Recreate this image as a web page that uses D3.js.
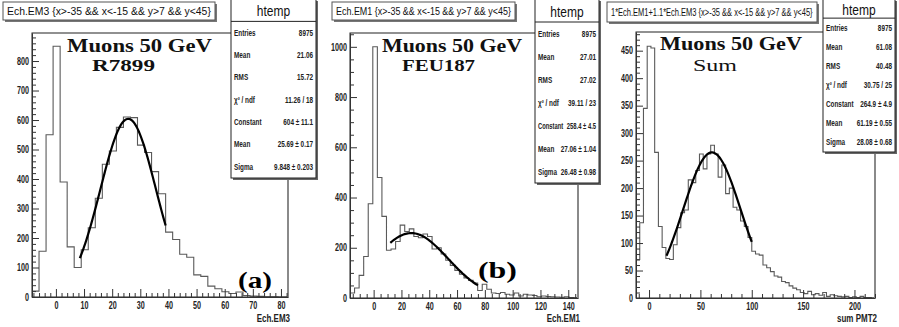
<!DOCTYPE html>
<html>
<head>
<meta charset="utf-8">
<script src="https://cdn.jsdelivr.net/npm/d3@7"></script>
<style>
body { margin: 0; background: #fff; }
svg { display: block; }
text { font-family: "Liberation Sans", "DejaVu Sans", sans-serif; }
.serif { font-family: "Liberation Serif", "DejaVu Serif", serif; }
</style>
</head>
<body>
<svg width="899" height="327"></svg>
<script>
// bin contents (three PMT amplitude histograms)
var emA_start = -8.5, emA_width = 2.5;
var emA_counts = [20, 155, 550, 850, 390, 170, 100, 160, 235, 335,
                  450, 495, 575, 610, 608, 515, 490, 425, 350, 220,
                  195, 145, 135, 75, 70, 37, 28, 18, 12, 17,
                  5, 3, 2, 1, 1, 0, 0];

var emB_start = -17, emB_width = 3.28;
var emB_counts = [20, 40, 90, 165, 375, 1000, 480, 325, 190, 195,
                  225, 290, 265, 275, 245, 240, 255, 245, 195, 200,
                  175, 150, 130, 110, 95, 80, 70, 60, 30, 55,
                  35, 20, 18, 22, 15, 12, 20, 8, 15, 12,
                  10, 5, 8, 6, 5, 4, 3, 5, 2, 1];

var sum_start = -12.7, sum_width = 3.636;
var sum_counts = [70, 137, 345, 458, 455, 265, 130, 92, 72, 70,
                  97, 128, 155, 160, 215, 210, 232, 262, 235, 262,
                  278, 262, 220, 242, 190, 200, 165, 160, 140, 130,
                  110, 85, 80, 78, 60, 55, 48, 40, 38, 30,
                  28, 22, 18, 15, 10, 8, 12, 6, 8, 5,
                  10, 3, 6, 4, 3, 2, 3, 1, 2, 1,
                  3, 1, 1, 0];

// gaussian fits: constant, mean, sigma, and the fitted range
var fitA = [604, 25.69, 9.848], fitRangeA = [8.5, 39];
var fitB = [258.4, 27.06, 26.48], fitRangeB = [12, 75];
var fitC = [264.9, 61.19, 28.08], fitRangeC = [17, 100];

var statLabels = ["Entries", "Mean", "RMS", "\u03c7\u00b2 / ndf", "Constant", "Mean", "Sigma"];
var statsA = ["8975", "21.06", "15.72", "11.26 / 18", "604 \u00b1 11.1", "25.69 \u00b1 0.17", "9.848 \u00b1 0.203"];
var statsB = ["8975", "27.01", "27.02", "39.11 / 23", "258.4 \u00b1 4.5", "27.06 \u00b1 1.04", "26.48 \u00b1 0.98"];
var statsC = ["8975", "61.08", "40.48", "30.75 / 25", "264.9 \u00b1 4.9", "61.19 \u00b1 0.55", "28.08 \u00b1 0.68"];

var titles = ["Ech.EM3 {x>-35 && x<-15 && y>7 && y<45}",
              "Ech.EM1 {x>-35 && x<-15 && y>7 && y<45}",
              "1*Ech.EM1+1.1*Ech.EM3 {x>-35 && x<-15 && y>7 && y<45}"];
var axisTitles = ["Ech.EM3", "Ech.EM1", "sum  PMT2"];
var tags = ["R7899", "FEU187", "Sum"];

var svg = d3.select("svg");

// squeeze a text horizontally (the scan uses a narrow font)
function condense(sel, f) {
  sel.each(function() {
    var t = d3.select(this);
    var x0 = +t.attr("x") || 0, y0 = +t.attr("y") || 0;
    t.attr("x", 0).attr("y", 0)
     .attr("transform", "translate(" + x0 + "," + y0 + ") scale(" + f + ",1)");
  });
  return sel;
}

var panels = [
  { start: emA_start, width: emA_width, counts: emA_counts, fit: fitA, fitRange: fitRangeA, stats: statsA,
    xDomain: [-8.5, 82.5], yDomain: [0, 895], left: 32, top: 33, right: 288, bottom: 297,
    xMajor: 10, xMinor: 2, yMajor: 100, yMinor: 20,
    titleBox: [3, 2, 215, 20], statBox: [231, -1, 316, 178],
    muons: [67, 52, 145], tag: [92, 71, 63, "bold"], letter: ["(a)", 238, 288, 34] },
  { start: emB_start, width: emB_width, counts: emB_counts, fit: fitB, fitRange: fitRangeB, stats: statsB,
    xDomain: [-17, 147], yDomain: [0, 1055], left: 350, top: 33, right: 578, bottom: 298,
    xMajor: 20, xMinor: 5, yMajor: 200, yMinor: 50,
    titleBox: [332, 2, 515, 20], statBox: [535, -1, 599, 183],
    muons: [382, 52, 140], tag: [402, 71, 73, "bold"], letter: ["(b)", 478, 278, 39] },
  { start: sum_start, width: sum_width, counts: sum_counts, fit: fitC, fitRange: fitRangeC, stats: statsC,
    xDomain: [-12.7, 220], yDomain: [0, 484], left: 636, top: 32, right: 875, bottom: 298,
    xMajor: 50, xMinor: 10, yMajor: 50, yMinor: 10,
    titleBox: [607, 2, 817, 22], statBox: [823, -1, 895, 152],
    muons: [660, 50, 142], tag: [693, 71, 44, "normal"], letter: null }
];

panels.forEach(function(p, k) {
  var x = d3.scaleLinear().domain(p.xDomain).range([p.left, p.right]);
  var y = d3.scaleLinear().domain(p.yDomain).range([p.bottom, p.top]);
  var g = svg.append("g");

  var clipId = "clip" + k;
  g.append("clipPath").attr("id", clipId)
    .append("rect").attr("x", p.left).attr("y", p.top)
    .attr("width", p.right - p.left).attr("height", p.bottom - p.top);

  // histogram outline
  var steps = p.counts.map(function(c, i) { return [p.start + i * p.width, c]; });
  steps.push([p.start + p.counts.length * p.width, p.counts[p.counts.length - 1]]);
  var stepLine = d3.line()
      .x(function(d) { return x(d[0]); })
      .y(function(d) { return y(d[1]); })
      .curve(d3.curveStepAfter);
  g.append("path")
      .attr("clip-path", "url(#" + clipId + ")")
      .attr("d", stepLine(steps))
      .attr("fill", "none")
      .attr("stroke", "#5a5a5a")
      .attr("stroke-width", 1.1);

  // fitted gaussian
  var gx = d3.range(p.fitRange[0], p.fitRange[1] + 0.01, (p.fitRange[1] - p.fitRange[0]) / 80);
  var gauss = function(v) { return p.fit[0] * Math.exp(-0.5 * Math.pow((v - p.fit[1]) / p.fit[2], 2)); };
  g.append("path")
      .attr("d", d3.line().x(function(v) { return x(v); }).y(function(v) { return y(gauss(v)); })(gx))
      .attr("fill", "none")
      .attr("stroke", "#000")
      .attr("stroke-width", 2.2);

  // frame
  g.append("rect")
      .attr("x", p.left).attr("y", p.top)
      .attr("width", p.right - p.left).attr("height", p.bottom - p.top)
      .attr("fill", "none").attr("stroke", "#222").attr("stroke-width", 1);
  g.append("line")
      .attr("x1", p.right).attr("x2", p.right).attr("y1", p.top).attr("y2", p.bottom)
      .attr("stroke", "#8a8a8a").attr("stroke-width", 2);

  var tickRange = function(dom, step) {
    return d3.range(Math.ceil(dom[0] / step) * step, dom[1] + 1e-9, step);
  };
  var isMajor = function(v, step) { return Math.abs(v / step - Math.round(v / step)) < 1e-6; };

  // y axis
  var yMaj = tickRange(p.yDomain, p.yMajor);
  var yMin = tickRange(p.yDomain, p.yMinor).filter(function(v) { return !isMajor(v, p.yMajor); });
  var ya = g.append("g").attr("transform", "translate(" + p.left + ",0)")
      .call(d3.axisLeft(y).tickValues(yMaj).tickFormat(d3.format("d"))
        .tickSizeInner(-7).tickSizeOuter(0).tickPadding(3));
  g.append("g").attr("transform", "translate(" + p.left + ",0)")
      .call(d3.axisLeft(y).tickValues(yMin).tickSizeInner(-4).tickSizeOuter(0).tickFormat(""))
      .select(".domain").remove();

  // x axis
  var xMaj = tickRange(p.xDomain, p.xMajor);
  var xMin = tickRange(p.xDomain, p.xMinor).filter(function(v) { return !isMajor(v, p.xMajor); });
  var xa = g.append("g").attr("transform", "translate(0," + p.bottom + ")")
      .call(d3.axisBottom(x).tickValues(xMaj).tickFormat(d3.format("d"))
        .tickSizeInner(-8).tickSizeOuter(0).tickPadding(5));
  g.append("g").attr("transform", "translate(0," + p.bottom + ")")
      .call(d3.axisBottom(x).tickValues(xMin).tickSizeInner(-4).tickSizeOuter(0).tickFormat(""))
      .select(".domain").remove();

  g.selectAll(".tick line").attr("stroke", "#333");
  g.selectAll(".domain").attr("stroke", "#333");
  [ya, xa].forEach(function(a) {
    condense(a.selectAll(".tick text")
      .style("font-family", "'Liberation Sans','DejaVu Sans',sans-serif")
      .attr("font-size", 10).attr("font-weight", "bold").attr("fill", "#222"), 0.72);
  });

  condense(g.append("text")
      .attr("x", p.right + 2).attr("y", 322)
      .attr("text-anchor", "end")
      .attr("font-size", 10).attr("font-weight", "bold").attr("fill", "#222")
      .text(axisTitles[k]), 0.8);

  // labels inside the frame
  g.append("text").attr("class", "serif")
      .attr("x", p.muons[0]).attr("y", p.muons[1])
      .attr("textLength", p.muons[2]).attr("lengthAdjust", "spacingAndGlyphs")
      .attr("font-size", 19).attr("font-weight", "bold").attr("fill", "#111")
      .text("Muons 50 GeV");
  g.append("text").attr("class", "serif")
      .attr("x", p.tag[0]).attr("y", p.tag[1])
      .attr("textLength", p.tag[2]).attr("lengthAdjust", "spacingAndGlyphs")
      .attr("font-size", 16).attr("font-weight", p.tag[3]).attr("fill", "#111")
      .text(tags[k]);
  if (p.letter) {
    g.append("text").attr("class", "serif")
        .attr("x", p.letter[1]).attr("y", p.letter[2])
        .attr("textLength", p.letter[3]).attr("lengthAdjust", "spacingAndGlyphs")
        .attr("font-size", 23).attr("font-weight", "bold").attr("fill", "#000")
        .text(p.letter[0]);
  }

  // title pave
  var tb = p.titleBox;
  g.append("rect").attr("x", tb[0] + 2).attr("y", tb[1] + 2)
      .attr("width", tb[2] - tb[0]).attr("height", tb[3] - tb[1]).attr("fill", "#777");
  g.append("rect").attr("x", tb[0]).attr("y", tb[1])
      .attr("width", tb[2] - tb[0]).attr("height", tb[3] - tb[1])
      .attr("fill", "#fff").attr("stroke", "#555").attr("stroke-width", 1);
  var tt = g.append("text")
      .attr("x", tb[0] + 4).attr("y", (tb[1] + tb[3]) / 2 + 4)
      .attr("font-size", 11.5).attr("fill", "#111")
      .text(titles[k]);
  condense(tt, (tb[2] - tb[0] - 8) / tt.node().getComputedTextLength());

  // stats pave
  var sb = p.statBox;
  var lineH = (sb[3] - sb[1]) / 8;
  g.append("rect").attr("x", sb[0] + 2).attr("y", sb[1] + 2)
      .attr("width", sb[2] - sb[0]).attr("height", sb[3] - sb[1]).attr("fill", "#666");
  g.append("rect").attr("x", sb[0]).attr("y", sb[1])
      .attr("width", sb[2] - sb[0]).attr("height", sb[3] - sb[1])
      .attr("fill", "#fff").attr("stroke", "#222").attr("stroke-width", 1);
  g.append("line")
      .attr("x1", sb[0]).attr("x2", sb[2])
      .attr("y1", sb[1] + lineH).attr("y2", sb[1] + lineH)
      .attr("stroke", "#222");
  condense(g.append("text")
      .attr("x", (sb[0] + sb[2]) / 2).attr("y", sb[1] + lineH / 2 + 6)
      .attr("text-anchor", "middle")
      .attr("font-size", 15).attr("fill", "#111")
      .text("htemp"), 0.8);
  var avail = sb[2] - sb[0] - 6;
  statLabels.forEach(function(lab, i) {
    var cy = sb[1] + lineH * (i + 1.5) + 3;
    var lt = g.append("text").attr("x", sb[0] + 3).attr("y", cy)
        .attr("font-size", 8.5).attr("font-weight", "bold").attr("fill", "#222")
        .text(lab);
    var vt = g.append("text").attr("x", sb[2] - 3).attr("y", cy)
        .attr("text-anchor", "end")
        .attr("font-size", 8.5).attr("font-weight", "bold").attr("fill", "#222")
        .text(p.stats[i]);
    var need = lt.node().getComputedTextLength() + vt.node().getComputedTextLength() + 5;
    var f = Math.min(0.75, avail / need);
    condense(lt, f);
    condense(vt, f);
  });
});
</script>
</body>
</html>
